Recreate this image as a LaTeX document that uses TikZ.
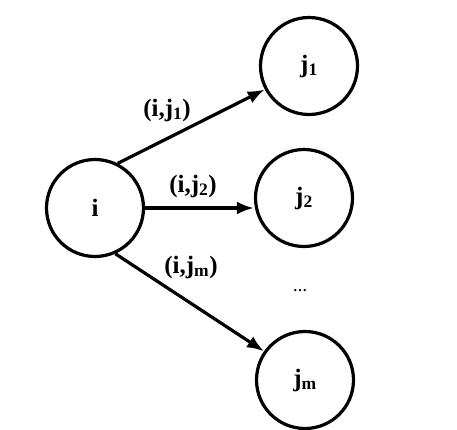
\documentclass[tikz,border=0pt]{standalone}
\usepackage{fontspec}
\setmainfont{Liberation Serif}
\usetikzlibrary{arrows.meta}
\begin{document}
\begin{tikzpicture}[x=1pt,y=-1pt,
  vertex/.style={draw,circle,line width=3.2pt,minimum size=97pt,inner sep=0pt,font=\fontsize{25}{28}\selectfont\bfseries},
  edgelbl/.style={font=\fontsize{25}{28}\selectfont\bfseries,inner sep=0pt},
  arc/.style={line width=3.2pt,-{Latex[length=17pt,width=13pt]}}]
\useasboundingbox (0,0) rectangle (457,430);
\node[vertex] (i) at (95,208) {i};
\node[vertex] (j1) at (309,66) {j$_{\mathbf{1}}$};
\node[vertex] (j2) at (304,198) {j$_{\mathbf{2}}$};
\node[vertex] (jm) at (305,380) {j$_{\mathbf{m}}$};
\node[edgelbl] (l1) at (167,110) {(i,j$_{\mathbf{1}}$)};
\node[edgelbl] (l2) at (193,186) {(i,j$_{\mathbf{2}}$)};
\node[edgelbl] (l3) at (191,267) {(i,j$_{\mathbf{m}}$)};
\node[edgelbl] (dots) at (300,291) {\fontsize{14}{16}\selectfont\dots};
\draw[arc] (i.63) -- (j1.208);
\draw[arc] (i.east) -- (i.east -| j2.west);
\draw[arc] (i.294) -- (jm.145);
\end{tikzpicture}
\end{document}
